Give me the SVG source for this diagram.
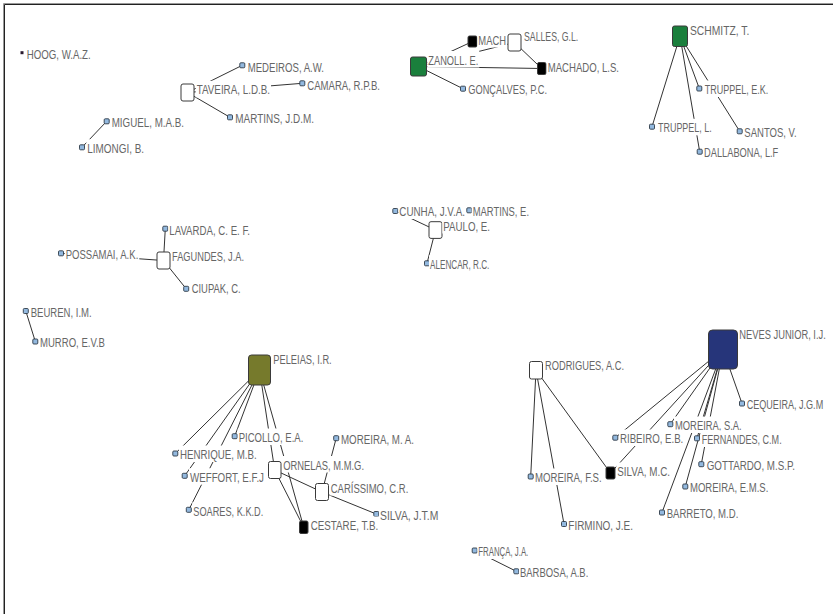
<svg xmlns="http://www.w3.org/2000/svg" width="833" height="614" viewBox="0 0 833 614">
<style>
.e{stroke:#333;stroke-width:1;fill:none}
.s{fill:#93b9df;stroke:#2e3a46;stroke-width:0.9}
.b{stroke:#3a3a3a;stroke-width:1}
.w{fill:#fff}
.lb{fill:#fff}
.t{font-family:"Liberation Sans",Arial,sans-serif;font-size:12.5px;fill:#666}
</style>
<rect x="0" y="0" width="833" height="614" fill="#fff"/>
<path d="M3.5 614V3.5H833" fill="none" stroke="#999" stroke-width="1"/>
<path d="M4.5 614V4.5H833" fill="none" stroke="#222" stroke-width="1"/>
<g id="edges">
<line class="e" x1="187.5" y1="92.5" x2="242.3" y2="65.3"/>
<line class="e" x1="187.5" y1="92.5" x2="302.3" y2="83.3"/>
<line class="e" x1="187.5" y1="92.5" x2="230" y2="117.3"/>
<line class="e" x1="106.7" y1="121.3" x2="82" y2="147.3"/>
<line class="e" x1="418.5" y1="66.5" x2="472.5" y2="41.5"/>
<line class="e" x1="418.5" y1="66.5" x2="514.5" y2="42.5"/>
<line class="e" x1="418.5" y1="66.5" x2="541.7" y2="68.5"/>
<line class="e" x1="418.5" y1="66.5" x2="463" y2="88.7"/>
<line class="e" x1="514.5" y1="42.5" x2="541.7" y2="68.5"/>
<line class="e" x1="680" y1="36.2" x2="652" y2="126.7"/>
<line class="e" x1="680" y1="36.2" x2="699.7" y2="151.7"/>
<line class="e" x1="680" y1="36.2" x2="699.3" y2="88.5"/>
<line class="e" x1="680" y1="36.2" x2="739.7" y2="131.3"/>
<line class="e" x1="163.5" y1="260.5" x2="165.3" y2="228.7"/>
<line class="e" x1="163.5" y1="260.5" x2="61" y2="253.3"/>
<line class="e" x1="163.5" y1="260.5" x2="186.2" y2="288.8"/>
<line class="e" x1="25.8" y1="311" x2="35.3" y2="341.5"/>
<line class="e" x1="435.5" y1="230" x2="395.3" y2="211"/>
<line class="e" x1="435.5" y1="230" x2="427" y2="263.3"/>
<line class="e" x1="259.5" y1="370" x2="175.3" y2="453.5"/>
<line class="e" x1="259.5" y1="370" x2="184.7" y2="475.8"/>
<line class="e" x1="259.5" y1="370" x2="188.8" y2="509.8"/>
<line class="e" x1="259.5" y1="370" x2="234.7" y2="436.2"/>
<line class="e" x1="259.5" y1="370" x2="274.7" y2="470"/>
<line class="e" x1="259.5" y1="370" x2="303.7" y2="527.2"/>
<line class="e" x1="274.7" y1="470" x2="303.7" y2="527.2"/>
<line class="e" x1="274.7" y1="470" x2="322" y2="492"/>
<line class="e" x1="322" y1="492" x2="336.2" y2="438.2"/>
<line class="e" x1="322" y1="492" x2="376.3" y2="514"/>
<line class="e" x1="536" y1="370.2" x2="530.7" y2="476.5"/>
<line class="e" x1="536" y1="370.2" x2="564" y2="524"/>
<line class="e" x1="536" y1="370.2" x2="610.5" y2="473"/>
<line class="e" x1="723" y1="349.5" x2="615.3" y2="437.7"/>
<line class="e" x1="723" y1="349.5" x2="610.5" y2="473"/>
<line class="e" x1="723" y1="349.5" x2="670.3" y2="424.2"/>
<line class="e" x1="723" y1="349.5" x2="697" y2="438.3"/>
<line class="e" x1="723" y1="349.5" x2="701.3" y2="464.2"/>
<line class="e" x1="723" y1="349.5" x2="685.3" y2="486.5"/>
<line class="e" x1="723" y1="349.5" x2="662" y2="512.5"/>
<line class="e" x1="723" y1="349.5" x2="742" y2="403.5"/>
<line class="e" x1="474.7" y1="550.5" x2="516.3" y2="571.3"/>
</g>
<g id="n-hoog"><rect x="20.5" y="51.2" width="3" height="3" fill="#2a1a2e"/><rect class="lb" x="25.7" y="45.5" width="66" height="16.5"/><text class="t" x="26.7" y="59" textLength="64" lengthAdjust="spacingAndGlyphs">HOOG, W.A.Z.</text></g>
<g id="n-medeiros"><rect class="s" x="239.8" y="62.8" width="5" height="5" rx="1"/><rect class="lb" x="246.7" y="58.2" width="78.3" height="16.5"/><text class="t" x="247.7" y="71.7" textLength="76.3" lengthAdjust="spacingAndGlyphs">MEDEIROS, A.W.</text></g>
<g id="n-camara"><rect class="s" x="299.8" y="80.8" width="5" height="5" rx="1"/><rect class="lb" x="306.3" y="76.5" width="74.7" height="16.5"/><text class="t" x="307.3" y="90" textLength="72.7" lengthAdjust="spacingAndGlyphs">CAMARA, R.P.B.</text></g>
<g id="n-martins-jdm"><rect class="s" x="227.5" y="114.8" width="5" height="5" rx="1"/><rect class="lb" x="234.3" y="109.8" width="80.7" height="16.5"/><text class="t" x="235.3" y="123.3" textLength="78.7" lengthAdjust="spacingAndGlyphs">MARTINS, J.D.M.</text></g>
<g id="n-taveira"><rect class="b w" x="181" y="84" width="13" height="17" rx="2"/><rect class="lb" x="195.7" y="80.8" width="75.3" height="16.5"/><text class="t" x="196.7" y="94.3" textLength="73.3" lengthAdjust="spacingAndGlyphs">TAVEIRA, L.D.B.</text></g>
<g id="n-miguel"><rect class="s" x="104.2" y="118.8" width="5" height="5" rx="1"/><rect class="lb" x="110.7" y="113.8" width="74.3" height="16.5"/><text class="t" x="111.7" y="127.3" textLength="72.3" lengthAdjust="spacingAndGlyphs">MIGUEL, M.A.B.</text></g>
<g id="n-limongi"><rect class="s" x="79.5" y="144.8" width="5" height="5" rx="1"/><rect class="lb" x="86.3" y="139.2" width="58.7" height="16.5"/><text class="t" x="87.3" y="152.7" textLength="56.7" lengthAdjust="spacingAndGlyphs">LIMONGI, B.</text></g>
<g id="n-zanoll"><rect class="b" fill="#1a7f3c" x="410.5" y="57" width="16" height="19" rx="2"/><rect class="lb" x="427.3" y="51" width="52" height="16.5"/><text class="t" x="428.3" y="64.5" textLength="50" lengthAdjust="spacingAndGlyphs">ZANOLL. E.</text></g>
<g id="n-goncalves"><rect class="s" x="460.5" y="86.2" width="5" height="5" rx="1"/><rect class="lb" x="467.3" y="80.5" width="80.7" height="16.5"/><text class="t" x="468.3" y="94" textLength="78.7" lengthAdjust="spacingAndGlyphs">GONÇALVES, P.C.</text></g>
<g id="n-machado-top"><rect class="b" fill="#000" x="468" y="36" width="9" height="11" rx="1.5"/><rect class="lb" x="477.3" y="31.5" width="30" height="16"/><text class="t" x="478.3" y="45" textLength="27.7" lengthAdjust="spacingAndGlyphs">MACH</text></g>
<g id="n-salles"><rect class="b w" x="508" y="34" width="13" height="17" rx="2"/><rect class="lb" x="523" y="27.5" width="56.3" height="16.5"/><text class="t" x="524" y="41" textLength="54.3" lengthAdjust="spacingAndGlyphs">SALLES, G.L.</text></g>
<g id="n-machado-ls"><rect class="b" fill="#000" x="537.5" y="62.5" width="8.5" height="12" rx="1.5"/><rect class="lb" x="546.7" y="58.5" width="73.3" height="16.5"/><text class="t" x="547.7" y="72" textLength="71.3" lengthAdjust="spacingAndGlyphs">MACHADO, L.S.</text></g>
<g id="n-schmitz"><rect class="b" fill="#1a7f3c" x="672.5" y="26" width="15" height="20.5" rx="2"/><rect class="lb" x="689" y="21.5" width="61.3" height="16.5"/><text class="t" x="690" y="35" textLength="59.3" lengthAdjust="spacingAndGlyphs">SCHMITZ, T.</text></g>
<g id="n-truppel-ek"><rect class="s" x="696.8" y="86" width="5" height="5" rx="1"/><rect class="lb" x="703.7" y="80.5" width="65.6" height="16.5"/><text class="t" x="704.7" y="94" textLength="63.6" lengthAdjust="spacingAndGlyphs">TRUPPEL, E.K.</text></g>
<g id="n-truppel-l"><rect class="s" x="649.5" y="124.2" width="5" height="5" rx="1"/><rect class="lb" x="657" y="118.8" width="55.7" height="16.5"/><text class="t" x="658" y="132.3" textLength="53.7" lengthAdjust="spacingAndGlyphs">TRUPPEL, L.</text></g>
<g id="n-santos"><rect class="s" x="737.2" y="128.8" width="5" height="5" rx="1"/><rect class="lb" x="743.3" y="123" width="54.4" height="16.5"/><text class="t" x="744.3" y="136.5" textLength="52.4" lengthAdjust="spacingAndGlyphs">SANTOS, V.</text></g>
<g id="n-dallabona"><rect class="s" x="697.2" y="149.2" width="5" height="5" rx="1"/><rect class="lb" x="703" y="143.5" width="76.3" height="16.5"/><text class="t" x="704" y="157" textLength="74.3" lengthAdjust="spacingAndGlyphs">DALLABONA, L.F</text></g>
<g id="n-lavarda"><rect class="s" x="162.8" y="226.2" width="5" height="5" rx="1"/><rect class="lb" x="168.3" y="221.5" width="82.7" height="16.5"/><text class="t" x="169.3" y="235" textLength="80.7" lengthAdjust="spacingAndGlyphs">LAVARDA, C. E. F.</text></g>
<g id="n-fagundes"><rect class="b w" x="157" y="252" width="13" height="17" rx="2"/><rect class="lb" x="171" y="247" width="74" height="16.5"/><text class="t" x="172" y="260.5" textLength="72" lengthAdjust="spacingAndGlyphs">FAGUNDES, J.A.</text></g>
<g id="n-possamai"><rect class="s" x="58.5" y="250.8" width="5" height="5" rx="1"/><rect class="lb" x="64.7" y="245" width="74.6" height="16.5"/><text class="t" x="65.7" y="258.5" textLength="72.6" lengthAdjust="spacingAndGlyphs">POSSAMAI, A.K.</text></g>
<g id="n-ciupak"><rect class="s" x="183.7" y="286.3" width="5" height="5" rx="1"/><rect class="lb" x="190.7" y="279.5" width="51" height="16.5"/><text class="t" x="191.7" y="293" textLength="49" lengthAdjust="spacingAndGlyphs">CIUPAK, C.</text></g>
<g id="n-beuren"><rect class="s" x="23.3" y="308.5" width="5" height="5" rx="1"/><rect class="lb" x="29.7" y="303" width="63" height="16.5"/><text class="t" x="30.7" y="316.5" textLength="61" lengthAdjust="spacingAndGlyphs">BEUREN, I.M.</text></g>
<g id="n-murro"><rect class="s" x="32.8" y="339" width="5" height="5" rx="1"/><rect class="lb" x="39" y="333.5" width="67" height="16.5"/><text class="t" x="40" y="347" textLength="65" lengthAdjust="spacingAndGlyphs">MURRO, E.V.B</text></g>
<g id="n-cunha"><rect class="s" x="392.8" y="208.5" width="5" height="5" rx="1"/><rect class="lb" x="398.3" y="202.5" width="67.7" height="16.5"/><text class="t" x="399.3" y="216" textLength="65.7" lengthAdjust="spacingAndGlyphs">CUNHA, J.V.A.</text></g>
<g id="n-martins-e"><rect class="s" x="466.8" y="207.8" width="5" height="5" rx="1"/><rect class="lb" x="471.7" y="202.5" width="58.3" height="16.5"/><text class="t" x="472.7" y="216" textLength="56.3" lengthAdjust="spacingAndGlyphs">MARTINS, E.</text></g>
<g id="n-paulo"><rect class="b w" x="429" y="221.7" width="13" height="16.7" rx="2"/><rect class="lb" x="442.3" y="217" width="48.7" height="16.5"/><text class="t" x="443.3" y="230.5" textLength="46.7" lengthAdjust="spacingAndGlyphs">PAULO, E.</text></g>
<g id="n-alencar"><rect class="s" x="424.5" y="260.8" width="5" height="5" rx="1"/><rect class="lb" x="429" y="255.3" width="61.3" height="16.5"/><text class="t" x="430" y="268.8" textLength="59.3" lengthAdjust="spacingAndGlyphs">ALENCAR, R.C.</text></g>
<g id="n-peleias"><rect class="b" fill="#767a2c" x="248.5" y="355" width="22" height="30" rx="3"/><rect class="lb" x="272.3" y="350" width="60.4" height="16.5"/><text class="t" x="273.3" y="363.5" textLength="58.4" lengthAdjust="spacingAndGlyphs">PELEIAS, I.R.</text></g>
<g id="n-picollo"><rect class="s" x="232.2" y="433.7" width="5" height="5" rx="1"/><rect class="lb" x="237.7" y="428.5" width="66.6" height="16.5"/><text class="t" x="238.7" y="442" textLength="64.6" lengthAdjust="spacingAndGlyphs">PICOLLO, E.A.</text></g>
<g id="n-moreira-ma"><rect class="s" x="333.7" y="435.7" width="5" height="5" rx="1"/><rect class="lb" x="340" y="430.5" width="75" height="16.5"/><text class="t" x="341" y="444" textLength="73" lengthAdjust="spacingAndGlyphs">MOREIRA, M. A.</text></g>
<g id="n-henrique"><rect class="s" x="172.8" y="451" width="5" height="5" rx="1"/><rect class="lb" x="179" y="445.5" width="78.7" height="16.5"/><text class="t" x="180" y="459" textLength="76.7" lengthAdjust="spacingAndGlyphs">HENRIQUE, M.B.</text></g>
<g id="n-ornelas"><rect class="b w" x="268.5" y="461.5" width="12.5" height="17" rx="2"/><rect class="lb" x="282.3" y="456" width="82.7" height="16.5"/><text class="t" x="283.3" y="469.5" textLength="80.7" lengthAdjust="spacingAndGlyphs">ORNELAS, M.M.G.</text></g>
<g id="n-weffort"><rect class="s" x="182.2" y="473.3" width="5" height="5" rx="1"/><rect class="lb" x="189" y="468.2" width="76" height="16.5"/><text class="t" x="190" y="481.7" textLength="74" lengthAdjust="spacingAndGlyphs">WEFFORT, E.F.J</text></g>
<g id="n-carissimo"><rect class="b w" x="315.5" y="483.5" width="13" height="17" rx="2"/><rect class="lb" x="329.7" y="479" width="79.6" height="16.5"/><text class="t" x="330.7" y="492.5" textLength="77.6" lengthAdjust="spacingAndGlyphs">CARÍSSIMO, C.R.</text></g>
<g id="n-soares"><rect class="s" x="186.3" y="507.3" width="5" height="5" rx="1"/><rect class="lb" x="192.3" y="502.2" width="72" height="16.5"/><text class="t" x="193.3" y="515.7" textLength="70" lengthAdjust="spacingAndGlyphs">SOARES, K.K.D.</text></g>
<g id="n-silva-jtm"><rect class="s" x="373.8" y="511.5" width="5" height="5" rx="1"/><rect class="lb" x="379" y="506" width="60.3" height="16.5"/><text class="t" x="380" y="519.5" textLength="58.3" lengthAdjust="spacingAndGlyphs">SILVA, J.T.M</text></g>
<g id="n-cestare"><rect class="b" fill="#000" x="299.5" y="521" width="8.5" height="12.5" rx="1.5"/><rect class="lb" x="309.7" y="516.5" width="69.6" height="16.5"/><text class="t" x="310.7" y="530" textLength="67.6" lengthAdjust="spacingAndGlyphs">CESTARE, T.B.</text></g>
<g id="n-neves"><rect class="b" fill="#26357a" x="708.5" y="330" width="29" height="39" rx="4"/><rect class="lb" x="738.3" y="325" width="88.5" height="16.5"/><text class="t" x="739.3" y="338.5" textLength="86.5" lengthAdjust="spacingAndGlyphs">NEVES JUNIOR, I.J.</text></g>
<g id="n-rodrigues"><rect class="b w" x="529.5" y="361.5" width="13" height="17.5" rx="2"/><rect class="lb" x="544" y="356.5" width="81" height="16.5"/><text class="t" x="545" y="370" textLength="79" lengthAdjust="spacingAndGlyphs">RODRIGUES, A.C.</text></g>
<g id="n-cequeira"><rect class="s" x="739.5" y="401" width="5" height="5" rx="1"/><rect class="lb" x="745.7" y="395.5" width="78.5" height="16.5"/><text class="t" x="746.7" y="409" textLength="76.5" lengthAdjust="spacingAndGlyphs">CEQUEIRA, J.G.M</text></g>
<g id="n-moreira-sa"><rect class="s" x="667.8" y="421.7" width="5" height="5" rx="1"/><rect class="lb" x="674" y="416.5" width="68.7" height="16.5"/><text class="t" x="675" y="430" textLength="66.7" lengthAdjust="spacingAndGlyphs">MOREIRA, S.A.</text></g>
<g id="n-ribeiro"><rect class="s" x="612.8" y="435.2" width="5" height="5" rx="1"/><rect class="lb" x="619" y="429.5" width="65.3" height="16.5"/><text class="t" x="620" y="443" textLength="63.3" lengthAdjust="spacingAndGlyphs">RIBEIRO, E.B.</text></g>
<g id="n-fernandes"><rect class="s" x="694.5" y="435.8" width="5" height="5" rx="1"/><rect class="lb" x="700.7" y="430.5" width="82" height="16.5"/><text class="t" x="701.7" y="444" textLength="80" lengthAdjust="spacingAndGlyphs">FERNANDES, C.M.</text></g>
<g id="n-silva-mc"><rect class="b" fill="#000" x="606" y="467" width="9" height="12" rx="1.5"/><rect class="lb" x="616.3" y="462.5" width="54.7" height="16.5"/><text class="t" x="617.3" y="476" textLength="52.7" lengthAdjust="spacingAndGlyphs">SILVA, M.C.</text></g>
<g id="n-gottardo"><rect class="s" x="698.8" y="461.7" width="5" height="5" rx="1"/><rect class="lb" x="705.7" y="456" width="90.3" height="16.5"/><text class="t" x="706.7" y="469.5" textLength="88.3" lengthAdjust="spacingAndGlyphs">GOTTARDO, M.S.P.</text></g>
<g id="n-moreira-fs"><rect class="s" x="528.2" y="474" width="5" height="5" rx="1"/><rect class="lb" x="534" y="468.5" width="68.7" height="16.5"/><text class="t" x="535" y="482" textLength="66.7" lengthAdjust="spacingAndGlyphs">MOREIRA, F.S.</text></g>
<g id="n-moreira-ems"><rect class="s" x="682.8" y="484" width="5" height="5" rx="1"/><rect class="lb" x="689" y="478.5" width="80.3" height="16.5"/><text class="t" x="690" y="492" textLength="78.3" lengthAdjust="spacingAndGlyphs">MOREIRA, E.M.S.</text></g>
<g id="n-barreto"><rect class="s" x="659.5" y="510" width="5" height="5" rx="1"/><rect class="lb" x="665.7" y="504.5" width="73.6" height="16.5"/><text class="t" x="666.7" y="518" textLength="71.6" lengthAdjust="spacingAndGlyphs">BARRETO, M.D.</text></g>
<g id="n-firmino"><rect class="s" x="561.5" y="521.5" width="5" height="5" rx="1"/><rect class="lb" x="567.3" y="516.5" width="66.7" height="16.5"/><text class="t" x="568.3" y="530" textLength="64.7" lengthAdjust="spacingAndGlyphs">FIRMINO, J.E.</text></g>
<g id="n-franca"><rect class="s" x="472.2" y="548" width="5" height="5" rx="1"/><rect class="lb" x="477.3" y="542.5" width="52" height="16.5"/><text class="t" x="478.3" y="556" textLength="50" lengthAdjust="spacingAndGlyphs">FRANÇA, J.A.</text></g>
<g id="n-barbosa"><rect class="s" x="513.8" y="568.8" width="5" height="5" rx="1"/><rect class="lb" x="519" y="563.5" width="70.3" height="16.5"/><text class="t" x="520" y="577" textLength="68.3" lengthAdjust="spacingAndGlyphs">BARBOSA, A.B.</text></g>
</svg>
